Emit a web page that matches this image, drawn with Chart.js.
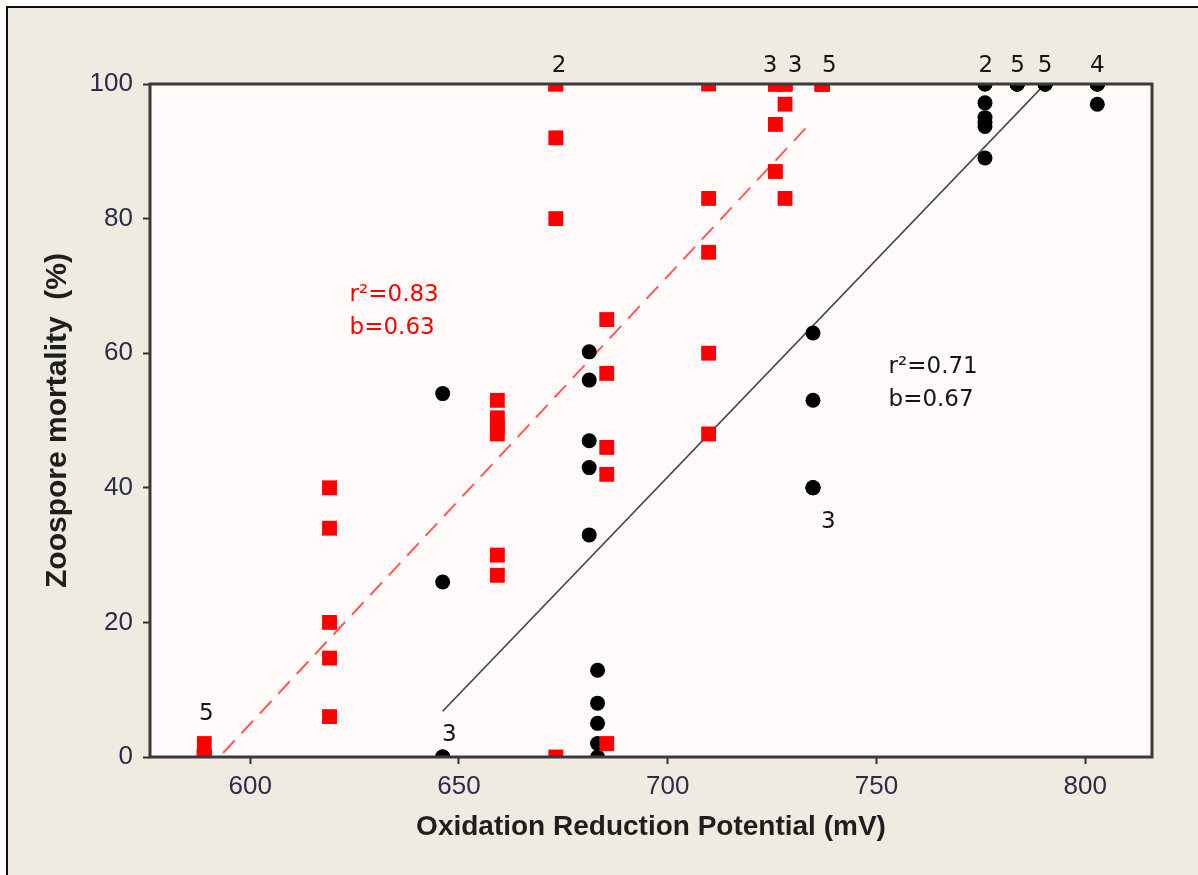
<!DOCTYPE html>
<html>
<head>
<meta charset="utf-8">
<script src="https://cdn.jsdelivr.net/npm/chart.js@4.4.1/dist/chart.umd.min.js"></script>
<style>
html,body{margin:0;padding:0;background:#ffffff;width:1198px;height:875px;overflow:hidden;}
#frame{position:absolute;left:6px;top:6px;width:1192px;height:869px;border-left:2px solid #111;border-top:2px solid #111;background:#EFEBE0;box-sizing:border-box;}
#wrap{position:absolute;left:0;top:0;width:1198px;height:875px;}
</style>
</head>
<body>
<div id="frame"></div>
<div id="wrap"><canvas id="c" width="1198" height="875"></canvas></div>
<script>
// ---- data ----
// red squares
const redORP = [589,589,589,589,589, 619,619,619,619,619, 659.2,659.2,659.2,659.2,659.2,659.2,
                673.2,673.2,673.2,673.2,673.2, 685.4,685.4,685.4,685.4,685.4,
                709.8,709.8,709.8,709.8,709.8, 725.8,725.8,725.8,725.8,725.8,
                728.1,728.1,728.1,728.1,728.1, 737,737,737,737,737];
const redMortality = [0,0,0,0,2, 40,34,20,14.7,6, 53,50.4,49,48,30,27,
                100,100,92,80,0, 65,57,46,42,2,
                100,83,75,60,48, 100,100,100,94,87,
                100,100,100,97,83, 100,100,100,100,100];
// black circles
const blackORP = [646.1,646.1,646.1,646.1,646.1, 681.2,681.2,681.2,681.2,681.2,
                  683.2,683.2,683.2,683.2,683.2, 734.8,734.8,734.8,734.8,734.8,
                  776,776,776,776,776,776,776, 783.7,783.7,783.7,783.7,783.7,
                  790.4,790.4,790.4,790.4,790.4, 802.9,802.9,802.9,802.9,802.9];
const blackMortality = [54,26,0,0,0, 60.2,56,47,43,33,
                  12.9,8,5,2,0, 63,53,40,40,40,
                  100,100,97.2,95,94.3,93.7,89, 100,100,100,100,100,
                  100,100,100,100,100, 100,100,100,100,97];
// fitted regression lines (end points)
const redFitORP = [593.5, 734.5];
const redFitMortality = [0.6, 94.4];
const blackFitORP = [646.1, 790.4];
const blackFitMortality = [6.8, 100];
// overlap counts shown next to stacked points
const countText = ['2','3','3','5','2','5','5','4','5','3','3'];
const countORP = [674.0,724.5,730.5,738.7,776.2,783.8,790.4,802.9,589.5,647.7,738.5];
const countMortality = [102.6,102.6,102.6,102.6,102.6,102.6,102.6,102.6,6.4,3.2,34.9];
// regression statistics
const redStats = ['r\u00B2=0.83','b=0.63'];
const blackStats = ['r\u00B2=0.71','b=0.67'];
// axes
const xTicks = [600,650,700,750,800];
const yTicks = [0,20,40,60,80,100];

const toPts = (xs, ys) => xs.map((v,i)=>({x:v, y:ys[i]}));

// use a narrow face for tick labels if one is installed
function hasFont(name){
  const cv = document.createElement('canvas').getContext('2d');
  cv.font = '40px monospace';
  const a = cv.measureText('mmmmwwww0123456789').width;
  cv.font = '40px "' + name + '", monospace';
  const b = cv.measureText('mmmmwwww0123456789').width;
  return Math.abs(a-b) > 0.5;
}
const narrow = hasFont('Liberation Sans Narrow');
const tickFont = narrow ? {family:"'Liberation Sans Narrow'", size:28} : {size:26};

const deco = {
  id:'deco',
  beforeDraw(chart){
    const {ctx, chartArea:a} = chart;
    ctx.save();
    ctx.fillStyle = '#FDFAF9';
    ctx.fillRect(a.left, a.top, a.right-a.left, a.bottom-a.top);
    ctx.restore();
  },
  afterDatasetsDraw(chart){
    const {ctx, chartArea:a, scales:{x, y}} = chart;
    ctx.save();
    ctx.strokeStyle = '#3a3a3a';
    ctx.lineWidth = 3;
    ctx.strokeRect(a.left, a.top, a.right-a.left, a.bottom-a.top);
    ctx.font = '23px "DejaVu Sans"';
    ctx.textBaseline = 'middle';
    ctx.textAlign = 'center';
    ctx.fillStyle = '#151515';
    countText.forEach((t,i)=>ctx.fillText(t, x.getPixelForValue(countORP[i]), y.getPixelForValue(countMortality[i])));
    ctx.textAlign = 'left';
    ctx.fillStyle = '#FF0000';
    ctx.fillText(redStats[0], x.getPixelForValue(623.8), y.getPixelForValue(68.7));
    ctx.fillText(redStats[1], x.getPixelForValue(623.8), y.getPixelForValue(63.8));
    ctx.fillStyle = '#151515';
    ctx.fillText(blackStats[0], x.getPixelForValue(752.9), y.getPixelForValue(58.0));
    ctx.fillText(blackStats[1], x.getPixelForValue(752.9), y.getPixelForValue(53.1));
    ctx.restore();
  }
};

Chart.defaults.font.family = "'Liberation Sans', Arial, sans-serif";

new Chart(document.getElementById('c'), {
  type:'scatter',
  data:{
    datasets:[
      {label:'Red group', data:toPts(redORP, redMortality), pointStyle:'rect', pointRadius:10.5, pointHoverRadius:10.5,
       backgroundColor:'#FF0000', borderColor:'#FF0000', borderWidth:0, clip:0},
      {label:'Black group', data:toPts(blackORP, blackMortality), pointStyle:'circle', pointRadius:7.5, pointHoverRadius:7.5,
       backgroundColor:'#000000', borderColor:'#000000', borderWidth:0, clip:0},
      {label:'Red fit', data:toPts(redFitORP, redFitMortality), showLine:true, pointRadius:0,
       borderColor:'#FF5a5a', borderWidth:2, borderDash:[17,10], fill:false, clip:0},
      {label:'Black fit', data:toPts(blackFitORP, blackFitMortality), showLine:true, pointRadius:0,
       borderColor:'#454545', borderWidth:1.7, fill:false, clip:0}
    ]
  },
  options:{
    responsive:false,
    animation:false,
    layout:{padding:{left:0, top:84, right:46, bottom:0}},
    plugins:{legend:{display:false}, tooltip:{enabled:false}},
    scales:{
      x:{
        type:'linear', min:576, max:816,
        afterFit(s){ s.height = 118; },
        afterBuildTicks(s){ s.ticks = xTicks.map(v=>({value:v})); },
        ticks:{includeBounds:false, font:tickFont, color:'#2c2c48', padding:7, maxRotation:0},
        grid:{drawOnChartArea:false, drawTicks:true, tickLength:7, tickWidth:2, tickColor:'#333'},
        border:{display:false},
        title:{display:true, text:'Oxidation Reduction Potential (mV)', font:{size:28, weight:'bold'}, color:'#1e1e1e', padding:{top:0,bottom:31}}
      },
      y:{
        type:'linear', min:0, max:100,
        afterFit(s){ s.width = 150; },
        afterBuildTicks(s){ s.ticks = yTicks.map(v=>({value:v})); },
        ticks:{font:tickFont, color:'#2c2c48', padding:10},
        grid:{drawOnChartArea:false, drawTicks:true, tickLength:7, tickWidth:2, tickColor:'#333'},
        border:{display:false},
        title:{display:true, text:'Zoospore mortality  (%)', font:{size:30, weight:'bold'}, color:'#1e1e1e', padding:{top:40,bottom:0}}
      }
    }
  },
  plugins:[deco]
});
</script>
</body>
</html>
